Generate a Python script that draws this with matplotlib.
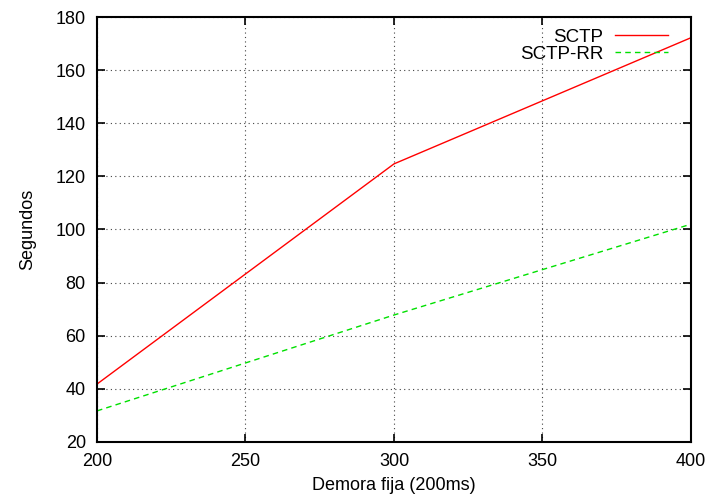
import matplotlib.pyplot as plt

demora = [200, 300, 400]
sctp = [41.8, 124.7, 172.2]
sctp_rr = [31.7, 67.8, 102.0]

plt.rcParams['font.family'] = ['Liberation Sans', 'DejaVu Sans']
plt.rcParams['font.size'] = 13

fig = plt.figure(figsize=(7.1, 5.03), dpi=100)
ax = fig.add_axes([0.1366, 0.1213, 0.8366, 0.8449])

ax.plot(demora, sctp, color='#ff0000', lw=1, label='SCTP')
ax.plot(demora, sctp_rr, color='#00e000', lw=1, dashes=(4, 3), label='SCTP-RR')

ax.set_xlim(200, 400)
ax.set_ylim(20, 180)
ax.set_xticks([200, 250, 300, 350, 400])
ax.set_yticks(range(20, 181, 20))
ax.grid(True, color='#444444', linestyle=(0, (1, 3)), lw=0.8)
ax.tick_params(direction='in', top=True, right=True, length=6, width=1.2, pad=8)
for s in ax.spines.values():
    s.set_linewidth(1.5)

ax.set_xlabel('Demora fija (200ms)', fontsize=13, labelpad=5)
ax.set_ylabel('Segundos', fontsize=13, labelpad=14)

ax.legend(loc='upper right', bbox_to_anchor=(0.974, 0.99), frameon=False,
          markerfirst=False, handlelength=2.85, fontsize=13.5, borderaxespad=0,
          labelspacing=0.0, handletextpad=0.6)

fig.savefig('out.png', dpi=100)
